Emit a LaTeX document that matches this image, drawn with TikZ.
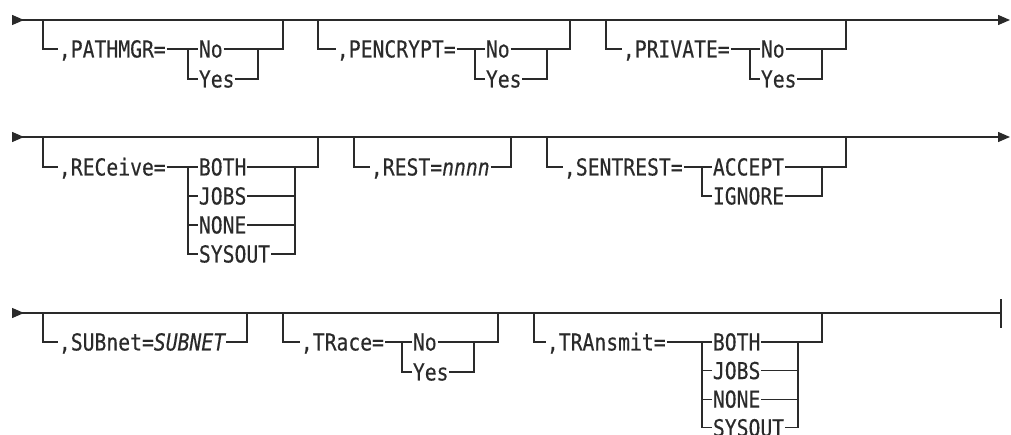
\documentclass[tikz,border=0pt]{standalone}
\usepackage{fontspec}
\usetikzlibrary{arrows.meta,positioning}
\newfontfamily\railfont{DejaVu Sans Mono}[FakeStretch=0.845,FakeBold=0.35]
\definecolor{ink}{HTML}{2A2A2A}
\tikzset{
  rail/.style={draw=ink,line width=1pt},
  kw/.style={anchor=west,inner xsep=0.5pt,inner ysep=0pt,
             text height=12.7pt,text depth=0pt,text=ink,
             font={\railfont\fontsize{17.5}{19}\selectfont}},
  railarr/.style={{Triangle[reversed,length=9pt,width=7.5pt]}-{Triangle[length=9pt,width=7.5pt]}},
  railbar/.style={{Triangle[reversed,length=9pt,width=7.5pt]}-}
}
\begin{document}
\begin{tikzpicture}[x=0.75pt,y=-0.75pt]
  \useasboundingbox (0,0) rectangle (1011,435);

  % ---- row 1 ----
  \coordinate (r1-in) at (12,20);
  \coordinate (r1-out) at (1010,20);
  \draw[rail,railarr] (r1-in) -- (r1-out);

  % PATHMGR
  \coordinate (pm-in) at (43,20);
  \coordinate (pm-out) at (283,20);
  \coordinate (pm-split) at (188,49);
  \coordinate (pm-join) at (258,49);
  \node[kw] (pm) at (58,49) {,PATHMGR=};
  \draw[rail] (pm-in) |- (pm.west);
  \draw[rail] (pm.east) -- (pm-split);
  \foreach \opt [count=\i from 0] in {No,Yes} {
    \node[kw] (pm-\i) at (198,49+30*\i) {\opt};
    \draw[rail] (pm-split) |- (pm-\i.west);
    \draw[rail] (pm-\i.east) -| (pm-join);
  }
  \draw[rail] (pm-join) -| (pm-out);

  % PENCRYPT
  \coordinate (pe-in) at (318,20);
  \coordinate (pe-out) at (570,20);
  \coordinate (pe-split) at (475,49);
  \coordinate (pe-join) at (547,49);
  \node[kw] (pe) at (336,49) {,PENCRYPT=};
  \draw[rail] (pe-in) |- (pe.west);
  \draw[rail] (pe.east) -- (pe-split);
  \foreach \opt [count=\i from 0] in {No,Yes} {
    \node[kw] (pe-\i) at (485,49+30*\i) {\opt};
    \draw[rail] (pe-split) |- (pe-\i.west);
    \draw[rail] (pe-\i.east) -| (pe-join);
  }
  \draw[rail] (pe-join) -| (pe-out);

  % PRIVATE
  \coordinate (pv-in) at (606,20);
  \coordinate (pv-out) at (846,20);
  \coordinate (pv-split) at (750,49);
  \coordinate (pv-join) at (822,49);
  \node[kw] (pv) at (622,49) {,PRIVATE=};
  \draw[rail] (pv-in) |- (pv.west);
  \draw[rail] (pv.east) -- (pv-split);
  \foreach \opt [count=\i from 0] in {No,Yes} {
    \node[kw] (pv-\i) at (760,49+30*\i) {\opt};
    \draw[rail] (pv-split) |- (pv-\i.west);
    \draw[rail] (pv-\i.east) -| (pv-join);
  }
  \draw[rail] (pv-join) -| (pv-out);

  % ---- row 2 ----
  \coordinate (r2-in) at (12,137);
  \coordinate (r2-out) at (1010,137);
  \draw[rail,railarr] (r2-in) -- (r2-out);

  % RECeive
  \coordinate (rc-in) at (43,137);
  \coordinate (rc-out) at (318,137);
  \coordinate (rc-split) at (188,167);
  \coordinate (rc-join) at (295,167);
  \node[kw] (rc) at (58,167) {,RECeive=};
  \draw[rail] (rc-in) |- (rc.west);
  \draw[rail] (rc.east) -- (rc-split);
  \foreach \opt [count=\i from 0] in {BOTH,JOBS,NONE,SYSOUT} {
    \node[kw] (rc-\i) at (198,167+29*\i) {\opt};
    \draw[rail] (rc-split) |- (rc-\i.west);
    \draw[rail] (rc-\i.east) -| (rc-join);
  }
  \draw[rail] (rc-join) -| (rc-out);

  % REST
  \coordinate (rs-in) at (354,137);
  \coordinate (rs-out) at (511,137);
  \node[kw] (rs) at (370,167) {,REST=\itshape nnnn};
  \draw[rail] (rs-in) |- (rs.west);
  \draw[rail] (rs.east) -| (rs-out);

  % SENTREST
  \coordinate (st-in) at (547,137);
  \coordinate (st-out) at (846,137);
  \coordinate (st-split) at (702,167);
  \coordinate (st-join) at (822,167);
  \node[kw] (st) at (563,167) {,SENTREST=};
  \draw[rail] (st-in) |- (st.west);
  \draw[rail] (st.east) -- (st-split);
  \foreach \opt [count=\i from 0] in {ACCEPT,IGNORE} {
    \node[kw] (st-\i) at (712,167+29*\i) {\opt};
    \draw[rail] (st-split) |- (st-\i.west);
    \draw[rail] (st-\i.east) -| (st-join);
  }
  \draw[rail] (st-join) -| (st-out);

  % ---- row 3 ----
  \coordinate (r3-in) at (12,313);
  \coordinate (r3-out) at (1001,313);
  \coordinate (r3-top) at (1001,299);
  \coordinate (r3-bot) at (1001,328);
  \draw[rail,railbar] (r3-in) -- (r3-out);
  \draw[rail] (r3-top) -- (r3-bot);

  % SUBnet
  \coordinate (sb-in) at (43,313);
  \coordinate (sb-out) at (247,313);
  \node[kw] (sb) at (58,342) {,SUBnet=\itshape SUBNET};
  \draw[rail] (sb-in) |- (sb.west);
  \draw[rail] (sb.east) -| (sb-out);

  % TRace
  \coordinate (tr-in) at (283,313);
  \coordinate (tr-out) at (498,313);
  \coordinate (tr-split) at (402,342);
  \coordinate (tr-join) at (474,342);
  \node[kw] (tr) at (300,342) {,TRace=};
  \draw[rail] (tr-in) |- (tr.west);
  \draw[rail] (tr.east) -- (tr-split);
  \foreach \opt [count=\i from 0] in {No,Yes} {
    \node[kw] (tr-\i) at (412,342+30*\i) {\opt};
    \draw[rail] (tr-split) |- (tr-\i.west);
    \draw[rail] (tr-\i.east) -| (tr-join);
  }
  \draw[rail] (tr-join) -| (tr-out);

  % TRAnsmit
  \coordinate (tx-in) at (534,313);
  \coordinate (tx-out) at (822,313);
  \coordinate (tx-split) at (702,342);
  \coordinate (tx-join) at (798,342);
  \node[kw] (tx) at (546,342) {,TRAnsmit=};
  \draw[rail] (tx-in) |- (tx.west);
  \draw[rail] (tx.east) -- (tx-split);
  \foreach \opt [count=\i from 0] in {BOTH,JOBS,NONE,SYSOUT} {
    \node[kw] (tx-\i) at (712,342+28.6*\i) {\opt};
    \draw[rail] (tx-split) |- (tx-\i.west);
    \draw[rail] (tx-\i.east) -| (tx-join);
  }
  \draw[rail] (tx-join) -| (tx-out);
\end{tikzpicture}
\end{document}
